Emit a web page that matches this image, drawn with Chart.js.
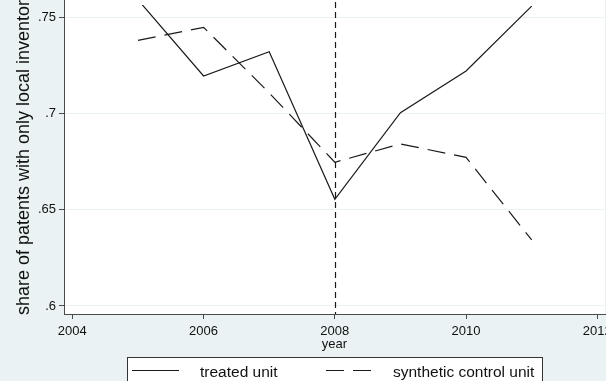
<!DOCTYPE html>
<html>
<head>
<meta charset="utf-8">
<script src="https://cdn.jsdelivr.net/npm/chart.js@4.4.1/dist/chart.umd.min.js"></script>
<style>
  html, body { margin: 0; padding: 0; background: #eaf2f3; overflow: hidden; }
  #quadro { position: relative; width: 606px; height: 381px; overflow: hidden; background: #eaf2f3; }
  #grafico { position: absolute; left: 0; top: -30px; width: 650px; height: 440px; }
</style>
</head>
<body>
<div id="quadro"><canvas id="grafico" width="650" height="440"></canvas></div>
<script>
const anos = [2005, 2006, 2007, 2008, 2009, 2010, 2011];
const tratado = [0.7591, 0.7195, 0.7321, 0.6554, 0.7004, 0.7221, 0.7558];
const sintetico = [0.7380, 0.7448, 0.7107, 0.6747, 0.6842, 0.6772, 0.6343];
const anoIntervencao = 2008;
const ticksX = [2004, 2006, 2008, 2010, 2012];
const ticksY = [0.6, 0.65, 0.7, 0.75];
const nomes = ['treated unit', 'synthetic control unit'];

const DESLOC = 30; // o canvas começa 30px acima da janela (imagem recortada)
const corLinha = '#1a1a1a';
const corEixo = '#4a4a4a';

Chart.defaults.font.family = "'Liberation Sans', Arial, sans-serif";
Chart.defaults.color = '#111';

const pontos = serie => anos.map((a, i) => ({ x: a, y: serie[i] }));

// fundo branco só na área do gráfico
const fundoPlot = {
  id: 'fundoPlot',
  beforeDraw(chart) {
    const { ctx, chartArea: a } = chart;
    ctx.save();
    ctx.fillStyle = '#eaf2f3';
    ctx.fillRect(0, 0, chart.width, chart.height);
    ctx.fillStyle = '#ffffff';
    ctx.fillRect(a.left, a.top, a.right - a.left, a.bottom - a.top);
    ctx.restore();
  }
};

// linha vertical tracejada no ano da intervenção
const linhaIntervencao = {
  id: 'linhaIntervencao',
  beforeDatasetsDraw(chart) {
    const { ctx, chartArea: a, scales } = chart;
    const x = Math.round(scales.x.getPixelForValue(anoIntervencao)) + 0.5;
    ctx.save();
    ctx.strokeStyle = corLinha;
    ctx.lineWidth = 1.2;
    ctx.setLineDash([6, 4]);
    ctx.beginPath();
    ctx.moveTo(x, a.top);
    ctx.lineTo(x, a.bottom);
    ctx.stroke();
    ctx.restore();
  }
};

// legenda em caixa, estilo Stata
const legendaCaixa = {
  id: 'legendaCaixa',
  afterDraw(chart) {
    const { ctx } = chart;
    const topo = 357 + DESLOC;
    ctx.save();
    ctx.fillStyle = '#ffffff';
    ctx.fillRect(127, topo, 416, 40);
    ctx.strokeStyle = '#333';
    ctx.lineWidth = 1;
    ctx.strokeRect(127.5, topo + 0.5, 415, 40);

    const amostraX = [132, 326];
    const textoX = [200, 393];
    chart.data.datasets.forEach((ds, i) => {
      ctx.strokeStyle = ds.borderColor;
      ctx.lineWidth = ds.borderWidth;
      ctx.setLineDash(ds.borderDash || []);
      ctx.beginPath();
      ctx.moveTo(amostraX[i], topo + 13.5);
      ctx.lineTo(amostraX[i] + 47, topo + 13.5);
      ctx.stroke();
      ctx.setLineDash([]);
      ctx.fillStyle = '#111';
      ctx.font = "15.5px 'Liberation Sans', Arial, sans-serif";
      ctx.textBaseline = 'alphabetic';
      ctx.fillText(ds.label, textoX[i], topo + 20);
    });
    ctx.restore();
  }
};

new Chart(document.getElementById('grafico'), {
  type: 'line',
  data: {
    datasets: [
      { label: nomes[0], data: pontos(tratado), borderColor: corLinha, borderWidth: 1.2,
        pointRadius: 0, tension: 0, clip: { left: 0, top: -13, right: 0, bottom: 0 } },
      { label: nomes[1], data: pontos(sintetico), borderColor: corLinha, borderWidth: 1.2,
        borderDash: [18, 9], pointRadius: 0, tension: 0, clip: { left: 0, top: -13, right: 0, bottom: 0 } }
    ]
  },
  options: {
    responsive: false,
    animation: false,
    layout: { padding: { left: 0, right: 45, top: 22, bottom: 56 } },
    plugins: { legend: { display: false }, tooltip: { enabled: false } },
    scales: {
      x: {
        type: 'linear', min: 2003.873, max: 2012.117,
        afterBuildTicks: s => { s.ticks = ticksX.map(v => ({ value: v })); },
        afterFit: s => { s.height = 40; },
        ticks: { callback: v => String(v), font: { size: 13 }, padding: 5, maxRotation: 0, autoSkip: false },
        grid: { drawOnChartArea: false, tickColor: corEixo, tickLength: 5 },
        border: { color: corEixo, width: 1 },
        title: { display: true, text: 'year', font: { size: 13 }, padding: { top: 0, bottom: 2 } }
      },
      y: {
        type: 'linear', min: 0.59584, max: 0.76314,
        afterBuildTicks: s => { s.ticks = ticksY.map(v => ({ value: v })); },
        afterFit: s => { s.width = 64; },
        ticks: { callback: v => String(v).replace(/^0\./, '.'), font: { size: 13 }, padding: 3 },
        grid: { color: '#eaf2f3', tickColor: corEixo, tickLength: 5 },
        border: { color: corEixo, width: 1 },
        title: { display: true, text: 'share of patents with only local inventors', font: { size: 18 }, padding: { top: 13, bottom: 0 } }
      }
    }
  },
  plugins: [fundoPlot, linhaIntervencao, legendaCaixa]
});
</script>
</body>
</html>
